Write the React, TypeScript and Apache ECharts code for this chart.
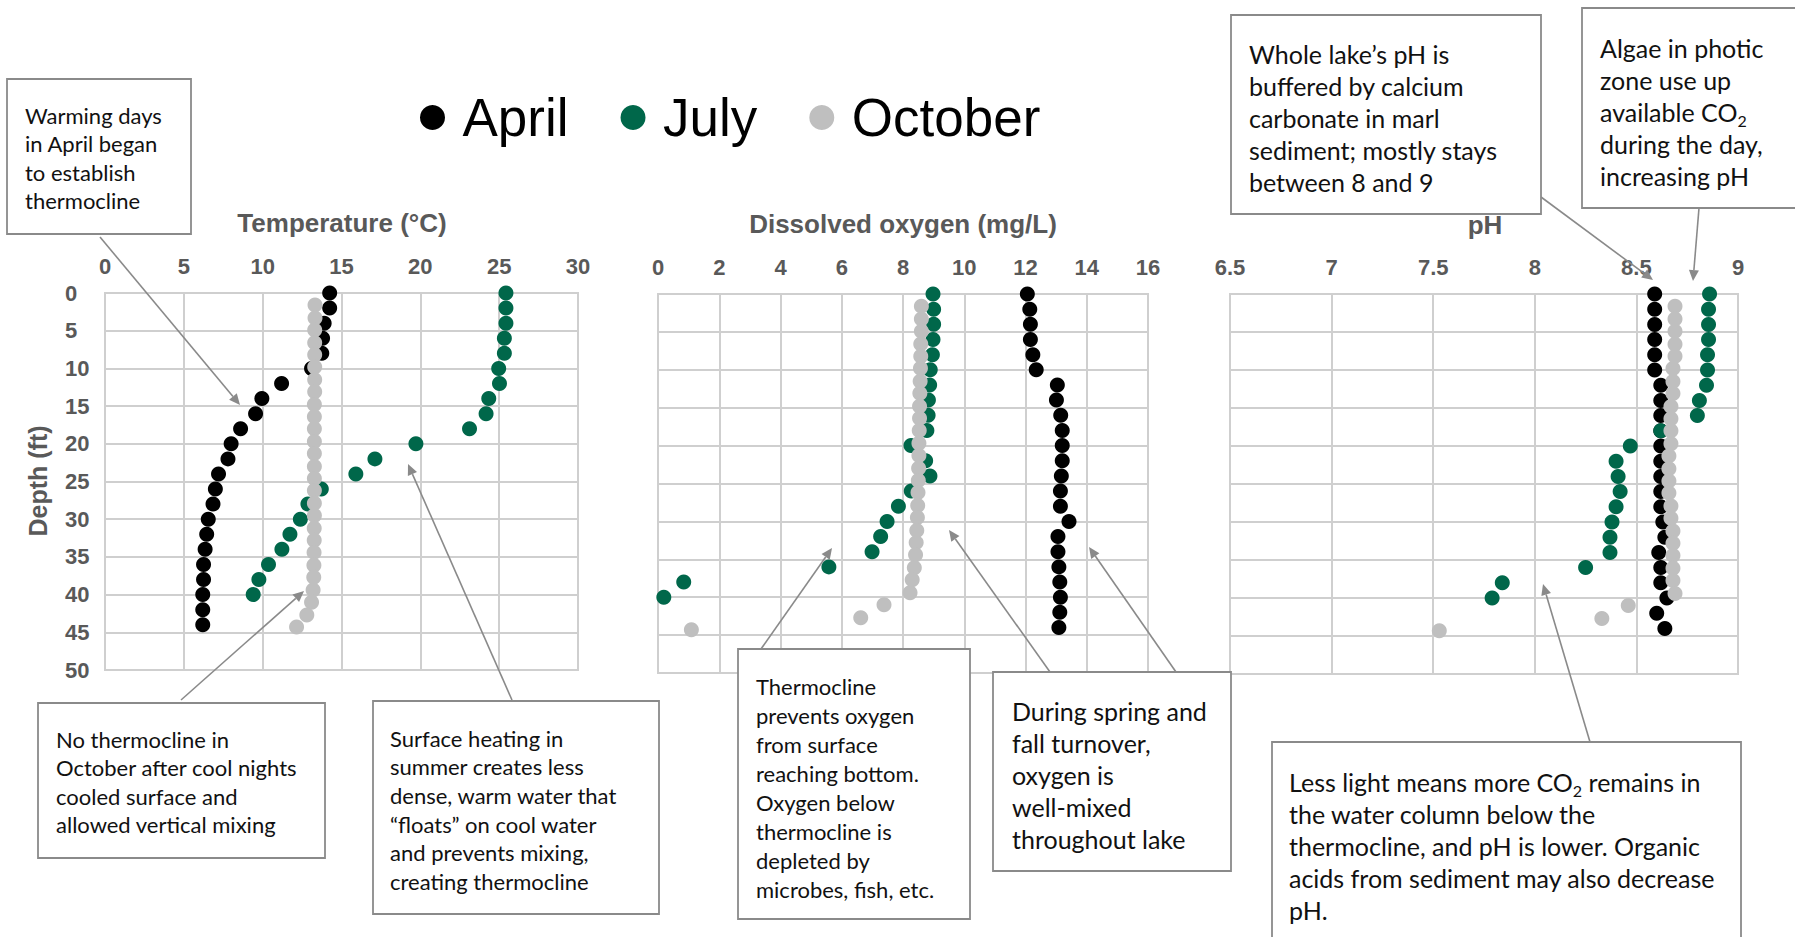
import React, { useEffect, useRef } from 'react';
import * as echarts from 'echarts';

// ---------------- DATA ----------------
const months = ['April', 'July', 'October'];

const aprilDepths = [0, 2, 4, 6, 8, 10, 12, 14, 16, 18, 20, 22, 24, 26, 28, 30, 32, 34, 36, 38, 40, 42, 44];
const julyDepths = [0, 2, 4, 6, 8, 10, 12, 14, 16, 18, 20, 22, 24, 26, 28, 30, 32, 34, 36, 38, 40];
const octoberDepths = [1.6, 3.3, 4.9, 6.6, 8.2, 9.8, 11.5, 13.1, 14.8, 16.4, 18.0, 19.7, 21.3, 23.0, 24.6, 26.2, 27.9, 29.5, 31.2, 32.8, 34.4, 36.1, 37.7, 39.4, 41.0, 42.7, 44.3];

// Temperature (°C)
const aprilTemp = [14.25, 14.25, 13.9, 13.8, 13.75, 13.1, 11.2, 9.95, 9.55, 8.6, 8.0, 7.8, 7.2, 7.0, 6.85, 6.55, 6.45, 6.35, 6.25, 6.25, 6.2, 6.2, 6.2];
const julyTemp = [25.43, 25.43, 25.43, 25.33, 25.33, 24.97, 25.02, 24.34, 24.17, 23.12, 19.72, 17.12, 15.91, 13.72, 12.87, 12.39, 11.73, 11.22, 10.37, 9.76, 9.4];
const octoberTemp = [13.32, 13.32, 13.3, 13.3, 13.3, 13.3, 13.3, 13.3, 13.28, 13.28, 13.28, 13.28, 13.28, 13.28, 13.28, 13.28, 13.28, 13.28, 13.27, 13.27, 13.26, 13.25, 13.24, 13.2, 13.1, 12.8, 12.15];

// Dissolved oxygen (mg/L)
const aprilDO = [12.06, 12.14, 12.16, 12.16, 12.24, 12.35, 13.04, 13.01, 13.15, 13.2, 13.2, 13.2, 13.17, 13.14, 13.14, 13.42, 13.06, 13.06, 13.09, 13.12, 13.14, 13.12, 13.09];
const julyDO = [8.98, 9.0, 9.0, 8.98, 8.96, 8.89, 8.87, 8.83, 8.82, 8.78, 8.26, 8.74, 8.88, 8.27, 7.85, 7.48, 7.27, 6.99, 5.58, 0.84, 0.19];
const octoberDO = [8.6, 8.6, 8.6, 8.58, 8.58, 8.57, 8.56, 8.55, 8.54, 8.54, 8.53, 8.52, 8.52, 8.51, 8.5, 8.49, 8.48, 8.47, 8.45, 8.43, 8.41, 8.37, 8.3, 8.23, 7.38, 6.62, 1.09];

// pH
const aprilPH = [8.59, 8.59, 8.59, 8.59, 8.59, 8.59, 8.62, 8.62, 8.62, 8.62, 8.62, 8.62, 8.62, 8.62, 8.62, 8.63, 8.64, 8.61, 8.62, 8.62, 8.65, 8.6, 8.64];
const julyPH = [8.86, 8.855, 8.855, 8.855, 8.85, 8.85, 8.845, 8.81, 8.8, 8.62, 8.47, 8.4, 8.41, 8.42, 8.4, 8.38, 8.37, 8.37, 8.25, 7.84, 7.79];
const octoberPH = [8.69, 8.69, 8.69, 8.69, 8.69, 8.68, 8.68, 8.68, 8.67, 8.67, 8.67, 8.67, 8.66, 8.66, 8.66, 8.66, 8.67, 8.67, 8.68, 8.68, 8.68, 8.68, 8.68, 8.69, 8.46, 8.33, 7.53];

// Axis ticks / titles
const tempTicks = { min: 0, max: 30, interval: 5 };
const doTicks = { min: 0, max: 16, interval: 2 };
const phTicks = { min: 6.5, max: 9, interval: 0.5 };
const depthTicks = { min: 0, max: 50, interval: 5 };
const panelTitles = ['Temperature (°C)', 'Dissolved oxygen (mg/L)', 'pH'];
const depthTitle = 'Depth (ft)';

// ---------------- STYLE / LAYOUT ----------------
const COLORS = ['#000000', '#00674a', '#bfbfbf'];
const GRID_COLOR = '#cfcfcf';
const LABEL_COLOR = '#595959';
const ARROW_COLOR = '#8a8a8a';
const BOX_COLOR = '#8a8a8a';
const AXIS_FONT = 'Liberation Sans, Arial, sans-serif';
const NOTE_FONT = 'Lato, "Open Sans", sans-serif';

const gridRects = [
  { left: 105, top: 293, width: 473, height: 377 },
  { left: 658, top: 294, width: 490, height: 379 },
  { left: 1230, top: 294, width: 508, height: 380 },
];
const titlePos = [
  [342, 223],
  [903, 224],
  [1485, 225],
];

const notes = [
  { x: 7, y: 79, w: 184, h: 155, tx: 25, ty: 101, size: 22, lh: 28.5,
    text: 'Warming days\nin April began\nto establish\nthermocline' },
  { x: 38, y: 703, w: 287, h: 155, tx: 56, ty: 725, size: 22, lh: 28.5,
    text: 'No thermocline in\nOctober after cool nights\ncooled surface and\nallowed vertical mixing' },
  { x: 373, y: 701, w: 286, h: 213, tx: 390, ty: 724, size: 22, lh: 28.6,
    text: 'Surface heating in\nsummer creates less\ndense, warm water that\n\u201Cfloats\u201D on cool water\nand prevents mixing,\ncreating thermocline' },
  { x: 738, y: 649, w: 232, h: 270, tx: 756, ty: 672, size: 22, lh: 29,
    text: 'Thermocline\nprevents oxygen\nfrom surface\nreaching bottom.\nOxygen below\nthermocline is\ndepleted by\nmicrobes, fish, etc.' },
  { x: 993, y: 672, w: 238, h: 199, tx: 1012, ty: 695, size: 25, lh: 32,
    text: 'During spring and\nfall turnover,\noxygen is\nwell-mixed\nthroughout lake' },
  { x: 1231, y: 15, w: 310, h: 199, tx: 1249, ty: 38, size: 25, lh: 32,
    text: 'Whole lake\u2019s pH is\nbuffered by calcium\ncarbonate in marl\nsediment; mostly stays\nbetween 8 and 9' },
  { x: 1582, y: 8, w: 240, h: 200, tx: 1600, ty: 32, size: 25, lh: 32,
    text: 'Algae in photic\nzone use up\navailable CO{s|2}\nduring the day,\nincreasing pH' },
  { x: 1272, y: 742, w: 469, h: 230, tx: 1289, ty: 766, size: 25, lh: 32,
    text: 'Less light means more CO{s|2} remains in\nthe water column below the\nthermocline, and pH is lower. Organic\nacids from sediment may also decrease\npH.' },
];

const arrows = [
  [100, 237, 240, 405],
  [181, 700, 304, 591],
  [512, 700, 408, 464],
  [761, 649, 832, 548],
  [1050, 672, 949, 530],
  [1176, 672, 1089, 547],
  [1541, 197, 1653, 280],
  [1699, 208, 1693, 281],
  [1590, 742, 1543, 584],
];

function arrowElements(a: number[]) {
  const [x1, y1, x2, y2] = a;
  const dx = x2 - x1;
  const dy = y2 - y1;
  const len = Math.hypot(dx, dy);
  const ux = dx / len;
  const uy = dy / len;
  const hl = 11;
  const hw = 5;
  const bx = x2 - ux * hl;
  const by = y2 - uy * hl;
  return [
    { type: 'line', z: 100, silent: true, shape: { x1, y1, x2: bx, y2: by }, style: { stroke: ARROW_COLOR, lineWidth: 1.6 } },
    { type: 'polygon', z: 100, silent: true, shape: { points: [[x2, y2], [bx - uy * hw, by + ux * hw], [bx + uy * hw, by - ux * hw]] }, style: { fill: ARROW_COLOR } },
  ];
}

export default function App() {
  const ref = useRef<HTMLDivElement>(null);

  useEffect(() => {
    if (!ref.current) return;
    const chart = echarts.init(ref.current, undefined, { renderer: 'svg' });

    const depthSets = [aprilDepths, julyDepths, octoberDepths];
    const panelValues = [
      [aprilTemp, julyTemp, octoberTemp],
      [aprilDO, julyDO, octoberDO],
      [aprilPH, julyPH, octoberPH],
    ];
    const xTicks = [tempTicks, doTicks, phTicks];

    const series: any[] = [];
    months.forEach((m, mi) => {
      panelValues.forEach((vals, pi) => {
        series.push({
          type: 'scatter',
          name: m,
          xAxisIndex: pi,
          yAxisIndex: pi,
          symbol: 'circle',
          symbolSize: 15,
          itemStyle: { color: COLORS[mi], opacity: 1 },
          emphasis: { disabled: true },
          data: vals[mi].map((v, i) => [v, depthSets[mi][i]]),
        });
      });
    });

    const axisLabelStyle = {
      fontSize: 22,
      fontWeight: 'bold',
      color: LABEL_COLOR,
      fontFamily: AXIS_FONT,
    };
    const splitLine = { show: true, lineStyle: { color: GRID_COLOR, width: 2 } };

    const graphics: any[] = [];
    panelTitles.forEach((t, i) => {
      graphics.push({
        type: 'text', z: 100, silent: true,
        x: titlePos[i][0], y: titlePos[i][1],
        style: { text: t, fontSize: 26, fontWeight: 'bold', fontFamily: AXIS_FONT, fill: LABEL_COLOR, align: 'center', verticalAlign: 'middle' },
      });
    });
    graphics.push({
      type: 'text', z: 100, silent: true,
      x: 38, y: 481, rotation: Math.PI / 2,
      style: { text: depthTitle, fontSize: 25, fontWeight: 'bold', fontFamily: AXIS_FONT, fill: LABEL_COLOR, align: 'center', verticalAlign: 'middle' },
    });
    arrows.forEach((a) => graphics.push(...arrowElements(a)));
    notes.forEach((n) => {
      graphics.push({
        type: 'rect', z: 101, silent: true,
        shape: { x: n.x, y: n.y, width: n.w, height: n.h },
        style: { fill: '#ffffff', stroke: BOX_COLOR, lineWidth: 1.8 },
      });
      graphics.push({
        type: 'text', z: 102, silent: true,
        x: n.tx, y: n.ty,
        style: {
          text: n.text,
          fontSize: n.size,
          fontFamily: NOTE_FONT,
          fill: '#111111',
          lineHeight: n.lh,
          align: 'left',
          verticalAlign: 'top',
          rich: {
            s: { fontSize: Math.round(n.size * 0.62), fontFamily: NOTE_FONT, fill: '#111111', lineHeight: 16, verticalAlign: 'bottom' },
          },
        },
      });
    });

    chart.setOption({
      animation: false,
      backgroundColor: '#ffffff',
      textStyle: { fontFamily: AXIS_FONT },
      legend: {
        data: months,
        left: 415,
        top: 86,
        icon: 'circle',
        itemWidth: 50,
        itemHeight: 25,
        itemGap: 52,
        selectedMode: false,
        textStyle: { fontSize: 53, color: '#000000', fontFamily: AXIS_FONT },
      },
      grid: gridRects.map((g) => ({
        ...g,
        show: true,
        borderColor: GRID_COLOR,
        borderWidth: 2,
        backgroundColor: 'transparent',
      })),
      xAxis: xTicks.map((t, i) => ({
        type: 'value',
        gridIndex: i,
        position: 'top',
        min: t.min,
        max: t.max,
        interval: t.interval,
        axisLine: { show: false },
        axisTick: { show: false },
        axisLabel: { ...axisLabelStyle, margin: 16 },
        splitLine,
      })),
      yAxis: [0, 1, 2].map((i) => ({
        type: 'value',
        gridIndex: i,
        inverse: true,
        min: depthTicks.min,
        max: depthTicks.max,
        interval: depthTicks.interval,
        axisLine: { show: false },
        axisTick: { show: false },
        axisLabel: { ...axisLabelStyle, show: i === 0, margin: 40, align: 'left' },
        splitLine,
      })),
      series,
      graphic: graphics,
    });

    return () => chart.dispose();
  }, []);

  return (
    <div
      ref={ref}
      style={{ position: 'absolute', left: 0, top: 0, width: 1795, height: 937, background: '#fff' }}
    />
  );
}
